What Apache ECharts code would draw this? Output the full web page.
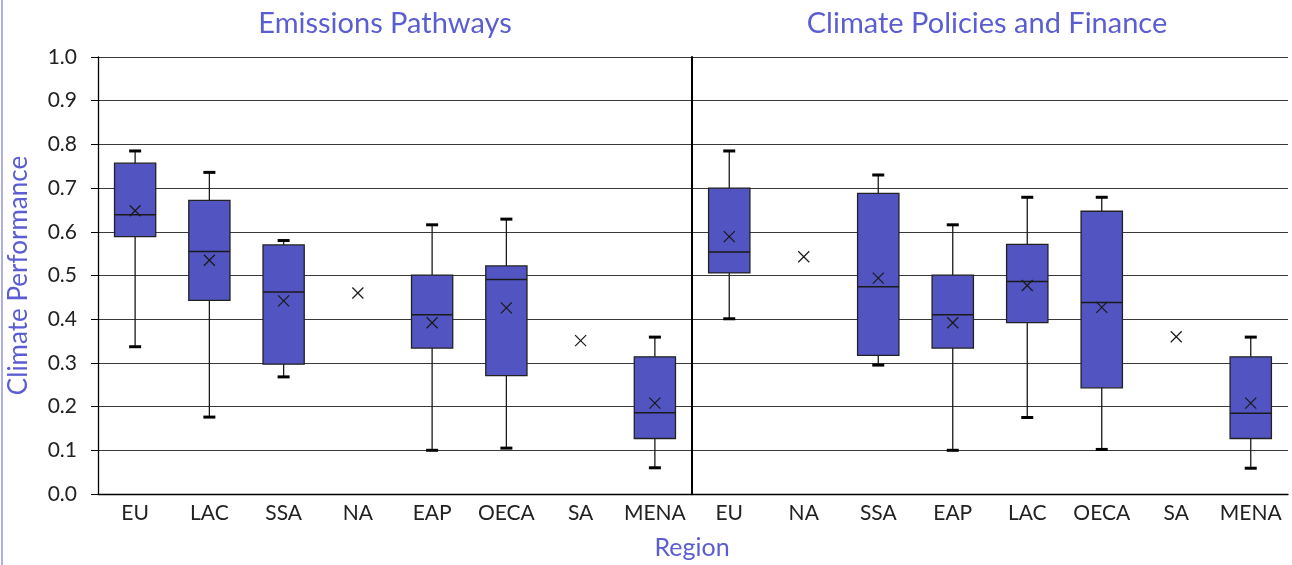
<!DOCTYPE html>
<html>
<head>
<meta charset="utf-8">
<script src="https://cdn.jsdelivr.net/npm/echarts@6/dist/echarts.min.js"></script>
<style>
  html, body { margin: 0; padding: 0; background: #fff; }
  #chart { width: 1292px; height: 565px; }
</style>
</head>
<body>
<div id="chart"></div>
<script>
// categories
var leftCats = ['EU', 'LAC', 'SSA', 'NA', 'EAP', 'OECA', 'SA', 'MENA'];
var rightCats = ['EU', 'NA', 'SSA', 'EAP', 'LAC', 'OECA', 'SA', 'MENA'];

// Emissions Pathways (null = only a single value, no box)
var leftMin    = [0.337, 0.176, 0.268, null, 0.100, 0.105, null, 0.060];
var leftQ1     = [0.589, 0.443, 0.297, null, 0.334, 0.271, null, 0.127];
var leftMedian = [0.639, 0.555, 0.462, null, 0.410, 0.491, null, 0.186];
var leftQ3     = [0.757, 0.672, 0.570, null, 0.501, 0.522, null, 0.314];
var leftMax    = [0.785, 0.736, 0.580, null, 0.616, 0.629, null, 0.359];
var leftMean   = [0.648, 0.535, 0.442, 0.460, 0.392, 0.426, 0.351, 0.208];

// Climate Policies and Finance
var rightMin    = [0.401, null, 0.295, 0.100, 0.175, 0.102, null, 0.059];
var rightQ1     = [0.506, null, 0.317, 0.334, 0.392, 0.243, null, 0.127];
var rightMedian = [0.554, null, 0.474, 0.410, 0.486, 0.438, null, 0.185];
var rightQ3     = [0.700, null, 0.688, 0.501, 0.571, 0.647, null, 0.314];
var rightMax    = [0.785, null, 0.730, 0.616, 0.679, 0.679, null, 0.359];
var rightMean   = [0.589, 0.543, 0.494, 0.392, 0.477, 0.427, 0.360, 0.208];

var yTicks = ['0.0', '0.1', '0.2', '0.3', '0.4', '0.5', '0.6', '0.7', '0.8', '0.9', '1.0'];

var chart = echarts.init(document.getElementById('chart'));
var FONT = 'Lato';
var purple = '#5b5dd2';
var ink = '#1a1a1a';

function boxSeries (idx, mins, q1s, meds, q3s, maxs, means) {
  return {
    type: 'custom',
    xAxisIndex: idx,
    yAxisIndex: idx,
    data: means.map(function (m, i) { return [i, m]; }),
    encode: { x: 0, y: 1 },
    renderItem: function (params, api) {
      var i = params.dataIndex;
      var band = api.size([1, 0])[0];
      var bw = band * 0.555;
      var x = api.coord([i, means[i]])[0];
      var yMean = api.coord([i, means[i]])[1];
      var kids = [];
      if (mins[i] != null) {
        var yMin = api.coord([i, mins[i]])[1];
        var yQ1 = api.coord([i, q1s[i]])[1];
        var yMed = api.coord([i, meds[i]])[1];
        var yQ3 = api.coord([i, q3s[i]])[1];
        var yMax = api.coord([i, maxs[i]])[1];
        kids.push({ type: 'line', shape: { x1: x, y1: yMax, x2: x, y2: yMin }, style: { stroke: ink, lineWidth: 1.3 } });
        kids.push({ type: 'rect', shape: { x: x - bw / 2, y: yQ3, width: bw, height: yQ1 - yQ3 }, style: { fill: '#5254c2', stroke: '#222', lineWidth: 1.3 } });
        kids.push({ type: 'line', shape: { x1: x - bw / 2, y1: yMed, x2: x + bw / 2, y2: yMed }, style: { stroke: ink, lineWidth: 1.5 } });
        kids.push({ type: 'rect', shape: { x: x - 6, y: yMax - 1.5, width: 12, height: 3 }, style: { fill: '#000' } });
        kids.push({ type: 'rect', shape: { x: x - 6, y: yMin - 1.5, width: 12, height: 3 }, style: { fill: '#000' } });
      }
      var s = 5.5;
      kids.push({ type: 'line', shape: { x1: x - s, y1: yMean - s, x2: x + s, y2: yMean + s }, style: { stroke: ink, lineWidth: 1.3 } });
      kids.push({ type: 'line', shape: { x1: x - s, y1: yMean + s, x2: x + s, y2: yMean - s }, style: { stroke: ink, lineWidth: 1.3 } });
      return { type: 'group', children: kids };
    }
  };
}

function yAxis (idx) {
  return {
    type: 'value',
    gridIndex: idx,
    min: 0,
    max: 1,
    interval: 0.1,
    name: idx === 0 ? 'Climate Performance' : '',
    nameLocation: 'middle',
    nameGap: 66,
    nameTextStyle: { color: purple, fontSize: 26, fontFamily: FONT },
    axisLine: { show: true, lineStyle: { color: '#000', width: idx === 0 ? 1.3 : 2 } },
    axisTick: { show: idx === 0, length: 7, lineStyle: { color: '#000' } },
    axisLabel: {
      show: idx === 0,
      margin: 21,
      fontSize: 21,
      fontFamily: FONT,
      color: '#222',
      formatter: function (v) { return yTicks[Math.round(v * 10)]; }
    },
    splitLine: { lineStyle: { color: '#3a3a3a', width: 1 } }
  };
}

function xAxis (idx, cats) {
  return {
    type: 'category',
    gridIndex: idx,
    data: cats,
    axisLine: { lineStyle: { color: '#000', width: 1.3 } },
    axisTick: { show: false },
    axisLabel: { fontSize: 21, fontFamily: FONT, color: '#222', margin: 9, interval: 0 }
  };
}

var option = {
  animation: false,
  grid: [
    { left: 98, right: 600, top: 57, bottom: 71 },
    { left: 692, right: 4, top: 57, bottom: 71 }
  ],
  xAxis: [xAxis(0, leftCats), xAxis(1, rightCats)],
  yAxis: [yAxis(0), yAxis(1)],
  graphic: [
    { type: 'line', shape: { x1: 2, y1: 0, x2: 2, y2: 565 }, style: { stroke: '#7a7ad8', lineWidth: 1.2 } },
    { type: 'text', x: 385, y: 24, style: { text: 'Emissions Pathways', align: 'center', verticalAlign: 'middle', fill: purple, fontSize: 29, fontFamily: FONT } },
    { type: 'text', x: 987, y: 24, style: { text: 'Climate Policies and Finance', align: 'center', verticalAlign: 'middle', fill: purple, fontSize: 29, fontFamily: FONT } },
    { type: 'text', x: 692, y: 548, style: { text: 'Region', align: 'center', verticalAlign: 'middle', fill: purple, fontSize: 25, fontFamily: FONT } }
  ],
  series: [
    boxSeries(0, leftMin, leftQ1, leftMedian, leftQ3, leftMax, leftMean),
    boxSeries(1, rightMin, rightQ1, rightMedian, rightQ3, rightMax, rightMean)
  ]
};
chart.setOption(option, true);
</script>
</body>
</html>
